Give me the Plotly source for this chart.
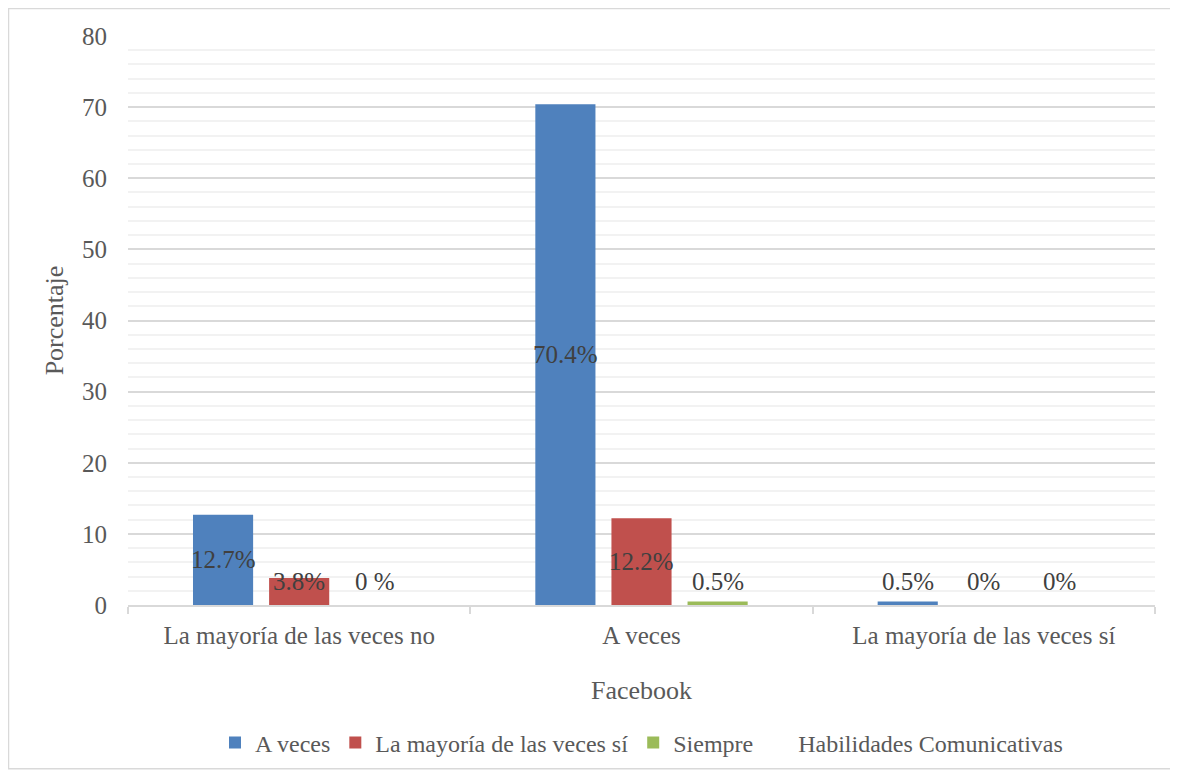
import plotly.graph_objects as go

categories = ["La mayoría de las veces no", "A veces", "La mayoría de las veces sí"]
series_names = ["A veces", "La mayoría de las veces sí", "Siempre"]
series_values = [
    [12.7, 70.4, 0.5],
    [3.8, 12.2, 0.0],
    [0.0, 0.5, 0.0],
]
series_labels = [
    ["12.7%", "70.4%", "0.5%"],
    ["3.8%", "12.2%", "0%"],
    ["0 %", "0.5%", "0%"],
]
series_colors = ["#4F81BD", "#C0504D", "#9BBB59"]
extra_legend = "Habilidades Comunicativas"
y_ticks = [0, 10, 20, 30, 40, 50, 60, 70, 80]

FONT = "Liberation Serif"
bargap = 0.333
bargroupgap = 0.21

fig = go.Figure()
for k, (name, vals, col) in enumerate(zip(series_names, series_values, series_colors)):
    fig.add_trace(go.Bar(x=categories, y=vals, name=name, marker_color=col,
                         marker_line_width=0, hoverinfo="skip", offsetgroup=str(k)))
fig.add_trace(go.Bar(x=categories, y=[None] * len(categories), name=extra_legend,
                     marker_color="rgba(0,0,0,0)", marker_line_width=0,
                     offsetgroup=str(len(series_names) - 1)))

# data labels
n = len(series_names)
slot = (1 - bargap) / n
for i, (vals, labs) in enumerate(zip(series_values, series_labels)):
    for j, (v, lab) in enumerate(zip(vals, labs)):
        fig.add_annotation(x=j + (i - (n - 1) / 2) * slot, y=max(v / 2, 3.3),
                           xref="x", yref="y", text=lab, showarrow=False,
                           font=dict(family=FONT, size=25, color="#404040"))

W, H = 1170, 768
L, R, T, B = 120, 23, 28, 170
pw, ph = W - L - R, H - T - B
fig.add_shape(type="rect", xref="paper", yref="paper",
              x0=(0.5 - L) / pw, x1=(1163 - L) / pw,
              y0=(H - B - 762) / ph, y1=(H - B - 0.5) / ph,
              line=dict(color="#D9D9D9", width=1.5), layer="below")

fig.update_layout(
    width=W, height=H,
    margin=dict(l=L, r=R, t=T, b=B),
    paper_bgcolor="white", plot_bgcolor="white",
    barmode="group", bargap=bargap, bargroupgap=bargroupgap,
    font=dict(family=FONT, color="#595959", size=24),
    showlegend=True,
    legend=dict(orientation="h", x=0.5, xanchor="center", y=(H - B - 735) / ph, yanchor="middle",
                font=dict(family=FONT, size=24, color="#595959"),
                traceorder="normal", itemwidth=30),
    xaxis=dict(
        title=dict(text="Facebook", font=dict(family=FONT, size=26, color="#595959"), standoff=33),
        showline=True, linecolor="#D9D9D9", linewidth=1.5,
        ticks="outside", tickson="boundaries", ticklen=7, tickcolor="#D9D9D9", tickwidth=1.5,
        tickfont=dict(family=FONT, size=25, color="#595959"),
        ticklabelstandoff=7,
        showgrid=False,
    ),
    yaxis=dict(
        title=dict(text="Porcentaje", font=dict(family=FONT, size=26, color="#595959"), standoff=10),
        range=[0, 80], tickvals=y_ticks,
        showgrid=True, gridcolor="#D9D9D9", gridwidth=1.5,
        minor=dict(dtick=2, showgrid=True, gridcolor="#F2F2F2", gridwidth=1.5),
        zeroline=False, showline=False, ticks="",
        tickfont=dict(family=FONT, size=25, color="#595959"),
        ticklabelstandoff=20,
    ),
)

fig.write_html("out.html")
